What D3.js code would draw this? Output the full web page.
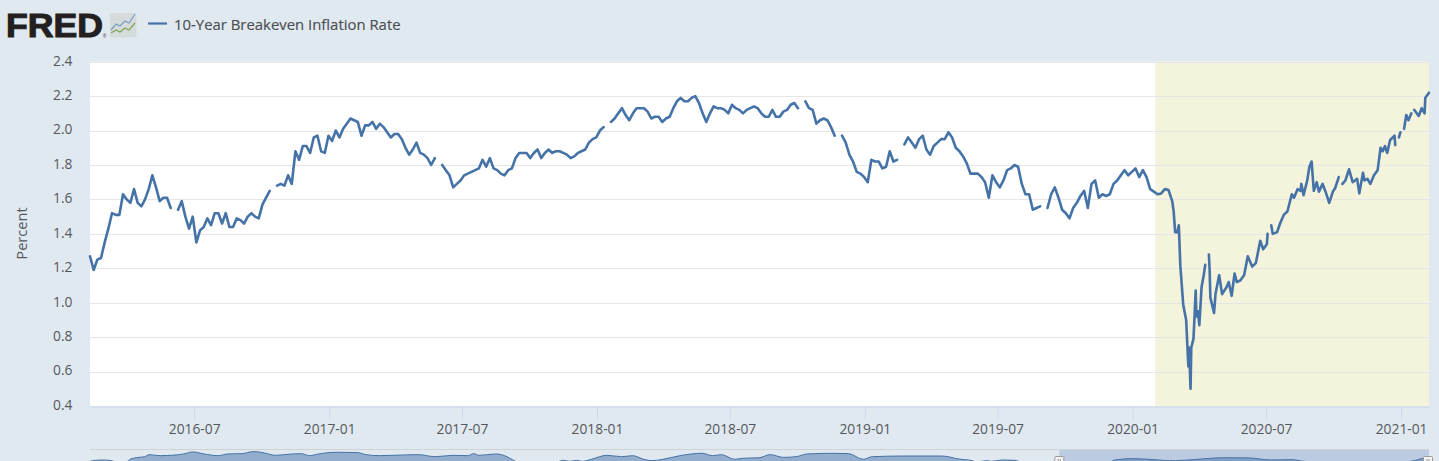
<!DOCTYPE html>
<html>
<head>
<meta charset="utf-8">
<script src="https://cdn.jsdelivr.net/npm/d3@7/dist/d3.min.js"></script>
<style>
html,body{margin:0;padding:0;background:#e1e9f0;overflow:hidden}
svg{display:block}
text{font-family:"Open Sans",sans-serif}
</style>
</head>
<body>
<svg id="c" width="1439" height="461"></svg>
<script>
// ---------- DATA ----------
const seriesName = "10-Year Breakeven Inflation Rate";
const yAxisTitle = "Percent";
const yTicks = [0.4,0.6,0.8,1.0,1.2,1.4,1.6,1.8,2.0,2.2,2.4];
const xTicks = ["2016-07","2017-01","2017-07","2018-01","2018-07","2019-01","2019-07","2020-01","2020-07","2021-01"];
const domainStart = "2016-02-10";
const domainEnd = "2021-02-08";
const recessionStart = "2020-02-01";

// Values read every 5 days from domainStart (null = missing value)
const sampleStepDays = 5;
const sampledValues = [
1.27,1.19,1.25,1.26,1.35,1.43,1.52,1.51,1.51,1.63,1.60,1.58,1.66,1.58,1.56,1.60,1.66,1.74,1.67,1.59,
1.61,1.61,1.55,null,1.54,1.59,1.50,1.43,1.50,1.35,1.42,1.44,1.49,1.45,1.52,1.52,1.46,1.52,1.44,1.44,
1.49,1.48,1.46,1.50,1.52,1.50,1.49,1.57,1.61,1.65,null,1.68,1.69,1.68,1.74,1.69,1.88,1.83,1.91,1.91,
1.87,1.96,1.97,1.88,1.87,1.97,1.94,2.00,1.96,2.01,2.04,2.07,2.06,2.05,1.97,2.03,2.03,2.05,2.01,2.04,
2.02,1.99,1.96,1.98,1.98,1.95,1.90,1.86,1.89,1.93,1.87,1.86,1.84,1.80,1.84,null,1.80,1.77,1.74,1.67,
1.69,1.71,1.74,1.75,1.76,1.77,1.78,1.83,1.79,1.84,1.78,1.77,1.75,1.74,1.77,1.78,1.84,1.87,1.87,1.87,
1.84,1.87,1.89,1.84,1.87,1.89,1.87,1.88,1.88,1.87,1.86,1.84,1.85,1.87,1.88,1.89,1.93,1.95,1.96,2.00,
2.02,null,2.05,2.07,2.10,2.13,2.09,2.06,2.10,2.13,2.13,2.13,2.11,2.07,2.08,2.08,2.05,2.07,2.08,2.13,
2.17,2.19,2.17,2.17,2.19,2.20,2.16,2.10,2.05,2.10,2.14,2.13,2.13,2.12,2.10,2.15,2.13,2.12,2.10,2.12,
2.13,2.14,2.13,2.10,2.08,2.08,2.12,2.08,2.08,2.11,2.12,2.15,2.16,2.13,null,2.17,2.13,2.12,2.04,2.06,
2.07,2.06,2.02,1.97,null,1.97,1.93,1.86,1.82,1.76,1.75,1.73,1.70,1.83,1.82,1.82,1.78,1.79,1.88,1.82,
1.83,null,1.92,1.96,1.93,1.90,1.95,1.97,1.89,1.86,1.91,1.93,1.95,1.95,1.99,1.96,1.90,1.88,1.85,1.81,
1.75,1.75,1.75,1.73,1.70,1.61,1.74,1.70,1.67,1.71,1.77,1.78,1.80,1.79,1.69,1.63,1.63,1.54,1.55,1.56,
null,1.55,1.63,1.67,1.61,1.54,1.52,1.49,1.55,1.58,1.62,1.65,1.55,1.69,1.71,1.61,1.63,1.62,1.63,1.69,
1.71,1.74,1.77,1.74,1.76,1.78,1.73,1.77,1.73,1.66,1.645,1.63,1.635,1.66
];

// Values read at individual dates through the 2020 drop and recovery
const recentDates = [
"2020-02-19","2020-02-24","2020-02-26","2020-02-28","2020-03-02","2020-03-04","2020-03-05","2020-03-06","2020-03-10","2020-03-14",
"2020-03-17","2020-03-18","2020-03-20","2020-03-21","2020-03-24","2020-03-27","2020-03-28","2020-03-30","2020-04-01","2020-04-04",
"2020-04-07","2020-04-09","2020-04-12","2020-04-14","2020-04-15","2020-04-16","2020-04-21","2020-04-23","2020-04-28","2020-05-02",
"2020-05-08","2020-05-11","2020-05-15","2020-05-19","2020-05-22","2020-05-27","2020-06-01","2020-06-06","2020-06-12","2020-06-17",
"2020-06-23","2020-06-27","2020-07-02","2020-07-03","2020-07-06","2020-07-08","2020-07-10","2020-07-16","2020-07-20","2020-07-25",
"2020-07-30","2020-08-05","2020-08-08","2020-08-13","2020-08-17","2020-08-18","2020-08-21","2020-08-26","2020-08-29","2020-09-01",
"2020-09-04","2020-09-08","2020-09-11","2020-09-16","2020-09-20","2020-09-25","2020-09-30","2020-10-03","2020-10-08","2020-10-10",
"2020-10-13","2020-10-17","2020-10-22","2020-10-27","2020-11-02","2020-11-05","2020-11-10","2020-11-12","2020-11-16","2020-11-20",
"2020-11-25","2020-11-30","2020-12-04","2020-12-07","2020-12-10","2020-12-13","2020-12-17","2020-12-23","2020-12-24","2020-12-27",
"2020-12-29","2020-12-31","2021-01-03","2021-01-05","2021-01-08","2021-01-11","2021-01-15","2021-01-17","2021-01-19","2021-01-25",
"2021-01-29","2021-02-02","2021-02-03","2021-02-08"
];
const recentValues = [
1.654,1.59,1.53,1.41,1.41,1.45,1.34,1.22,0.99,0.90,
0.63,0.74,0.50,0.74,0.79,1.07,0.92,0.95,0.87,1.09,
1.16,1.22,null,1.28,1.19,1.03,0.94,1.05,1.16,1.05,
1.09,1.12,1.04,1.17,1.12,1.13,1.16,1.27,1.21,1.23,
1.36,1.31,1.34,1.40,null,1.45,1.40,1.41,1.46,1.51,
1.53,1.63,1.61,1.66,1.65,1.69,1.625,1.71,1.79,1.82,
1.65,1.70,1.645,1.69,1.645,1.58,1.645,1.665,1.73,null,
1.69,1.71,1.775,1.70,1.72,1.635,1.755,1.71,1.72,1.69,
1.74,1.77,1.90,1.88,1.91,1.87,1.945,1.97,1.915,null,
1.96,1.99,null,2.01,2.09,2.06,2.10,null,2.12,2.085,
2.13,2.10,2.19,2.22
];

// Navigator strip: whole-history overview, as decimal years and percent
const navYears = [
2003.00,2003.07,2003.16,2003.28,2003.36,2003.51,2003.54,2003.66,2003.74,2003.80,2003.95,2004.10,2004.27,2004.39,2004.54,2004.74,2004.86,2005.06,2005.21,2005.36,
2005.50,2005.68,2005.85,2005.97,2006.09,2006.35,2006.62,2006.73,2006.91,2007.09,2007.44,2007.67,2007.91,2008.11,2008.19,2008.26,2008.49,2008.64,2008.72,2008.79,
2009.31,2009.40,2009.49,2009.58,2009.66,2009.78,2009.99,2010.19,2010.34,2010.49,2010.60,2010.75,2010.98,2011.28,2011.42,2011.54,2011.72,2011.83,2012.05,2012.20,
2012.38,2012.55,2012.70,2013.05,2013.26,2013.46,2013.58,2013.99,2014.52,2014.75,2014.93,2014.99,2015.13,2015.19,2015.34,2015.51,2015.60,2016.80,2016.86,2017.10,
2017.45,2017.60,2017.68,2017.98,2018.33,2018.68,2018.97,2019.27,2019.38,2019.56,2020.79,2020.91,2021.02,2021.11
];
const navValues = [
1.95,2.04,2.07,2.02,1.90,1.95,2.13,2.30,2.36,2.54,2.45,2.48,2.60,2.78,2.60,2.45,2.60,2.63,2.81,2.69,
2.48,2.57,2.63,2.45,2.60,2.75,2.72,2.54,2.45,2.48,2.54,2.36,2.48,2.45,2.63,2.48,2.60,2.36,2.07,1.90,
1.90,2.04,1.95,2.04,1.95,2.13,2.48,2.36,2.45,2.13,2.01,2.13,2.45,2.66,2.45,2.54,2.13,2.22,2.27,2.54,
2.30,2.36,2.60,2.66,2.63,2.13,2.36,2.42,2.42,2.16,2.01,1.90,2.01,1.95,2.07,2.04,1.90,1.90,2.07,2.19,
2.07,2.01,2.01,2.13,2.27,2.25,2.07,2.10,1.98,1.90,1.90,2.01,2.20,2.27
];
const navSelectionStart = 2016.11;

// ---------- DRAW ----------
const W = 1439, H = 461;
const plot = {left:90, right:1429, top:61.7, bottom:406};
const nav = {top:449.5, bottom:492};
const parse = d3.utcParse("%Y-%m-%d");
const parseMonth = d3.utcParse("%Y-%m");
const lineColor = "#4572a7", textColor = "#54585c";

const svg = d3.select("#c");
const x = d3.scaleUtc().domain([parse(domainStart), parse(domainEnd)]).range([plot.left, plot.right]);
const y = d3.scaleLinear().domain([0.4,2.4]).range([plot.bottom, plot.top]);

const t0 = parse(domainStart);
const points = sampledValues.map((v,i)=>({d:d3.utcDay.offset(t0,i*sampleStepDays),v}))
  .concat(recentDates.map((d,i)=>({d:parse(d),v:recentValues[i]})));

// plot background and recession band
svg.append("rect").attr("x",plot.left).attr("y",plot.top)
  .attr("width",plot.right-plot.left).attr("height",plot.bottom-plot.top).attr("fill","#fff");
svg.append("rect").attr("x",x(parse(recessionStart))).attr("y",plot.top)
  .attr("width",plot.right-x(parse(recessionStart))).attr("height",plot.bottom-plot.top).attr("fill","#f4f3dc");

// grid
svg.append("g").selectAll("line").data(yTicks.slice(1)).join("line")
  .attr("x1",plot.left).attr("x2",plot.right)
  .attr("y1",d=>Math.round(y(d))+0.5).attr("y2",d=>Math.round(y(d))+0.5)
  .attr("stroke","#e6e6e6").attr("stroke-width",1);

// y axis
const yAxis = d3.axisLeft(y).tickValues(yTicks).tickFormat(d3.format(".1f")).tickSize(0).tickPadding(0);
const gy = svg.append("g").attr("transform",`translate(72.5,0)`).call(yAxis);
gy.select(".domain").remove();
gy.selectAll("text").attr("font-size",13.8).attr("fill",textColor).attr("dy","0.32em")
  .attr("transform","translate(0,-1)").style("font-family",'"Open Sans",sans-serif');

// x axis
const xAxis = d3.axisBottom(x).tickValues(xTicks.map(s=>parseMonth(s)))
  .tickFormat(d3.utcFormat("%Y-%m")).tickSize(13).tickPadding(5).tickSizeOuter(0);
const gx = svg.append("g").attr("transform",`translate(0,${plot.bottom+0.5})`).call(xAxis);
gx.select(".domain").attr("stroke","#ccd6eb");
gx.selectAll("line").attr("stroke","#ccd6eb");
gx.selectAll("text").attr("font-size",13.8).attr("fill",textColor).style("font-family",'"Open Sans",sans-serif');

// y title
svg.append("text").attr("transform","translate(27,233.5) rotate(-90)").attr("text-anchor","middle")
  .attr("font-size",14.6).attr("fill",textColor).text(yAxisTitle);

// series
const line = d3.line().defined(d=>d.v!==null).x(d=>x(d.d)).y(d=>y(d.v));
svg.append("path").datum(points).attr("d",line).attr("fill","none")
  .attr("stroke",lineColor).attr("stroke-width",2.6).attr("stroke-linejoin","round").attr("stroke-linecap","round");

// legend
svg.append("line").attr("x1",148).attr("x2",167).attr("y1",23.5).attr("y2",23.5).attr("stroke",lineColor).attr("stroke-width",2.2);
svg.append("text").attr("x",174).attr("y",30).attr("font-size",14.9).attr("fill","#4a4e52").attr("stroke","#4a4e52").attr("stroke-width",0.15).text(seriesName);

// FRED logo
svg.append("text").attr("x",6).attr("y",37).attr("font-size",34).attr("font-weight",700)
  .attr("textLength",97).attr("lengthAdjust","spacingAndGlyphs")
  .style("font-family",'"Liberation Sans",sans-serif').attr("fill","#231f20").attr("stroke","#231f20").attr("stroke-width",1.1).text("FRED");
svg.append("text").attr("x",102.5).attr("y",38).attr("font-size",5).attr("fill","#555").text("®");
const logo = svg.append("g");
logo.append("rect").attr("x",110).attr("y",13).attr("width",26.5).attr("height",24.5).attr("rx",2).attr("fill","#d6dbdc");
logo.append("polyline").attr("points","111,30 116,24 120,26 125,21 129,23 135,14").attr("fill","none").attr("stroke","#7c9fbf").attr("stroke-width",1.2);
logo.append("polyline").attr("points","111,33 116,30 120,32 125,28 129,30 135,23").attr("fill","none").attr("stroke","#7fa650").attr("stroke-width",1.2);

// navigator
const nx = d3.scaleLinear().domain([2003,2021.11]).range([plot.left,plot.right]);
const ny = d3.scaleLinear().domain([2.2,2.8]).range([458.5,451.7]);
svg.append("rect").attr("x",nx(navSelectionStart)).attr("y",nav.top)
  .attr("width",plot.right-nx(navSelectionStart)).attr("height",H-nav.top).attr("fill","#bccbe2");
const navData = navYears.map((t,i)=>({t,v:navValues[i]}));
svg.append("path").datum(navData)
  .attr("d",d3.area().x(d=>nx(d.t)).y0(nav.bottom).y1(d=>ny(d.v)).curve(d3.curveMonotoneX))
  .attr("fill",lineColor).attr("fill-opacity",0.5)
  .attr("stroke","none");
svg.append("path").datum(navData)
  .attr("d",d3.line().x(d=>nx(d.t)).y(d=>ny(d.v)).curve(d3.curveMonotoneX))
  .attr("fill","none").attr("stroke",lineColor).attr("stroke-width",1);
svg.append("line").attr("x1",plot.left).attr("x2",plot.right).attr("y1",nav.top).attr("y2",nav.top).attr("stroke","#cfd3d6");
[nx(navSelectionStart),plot.right-1].forEach(hx=>{
  svg.append("rect").attr("x",hx-4.5).attr("y",456.5).attr("width",9).attr("height",10).attr("rx",1)
    .attr("fill","#f2f2f2").attr("stroke","#999");
  [-1,1].forEach(o=>svg.append("line").attr("x1",hx+o).attr("x2",hx+o).attr("y1",459).attr("y2",461).attr("stroke","#999"));
});
</script>
</body>
</html>
